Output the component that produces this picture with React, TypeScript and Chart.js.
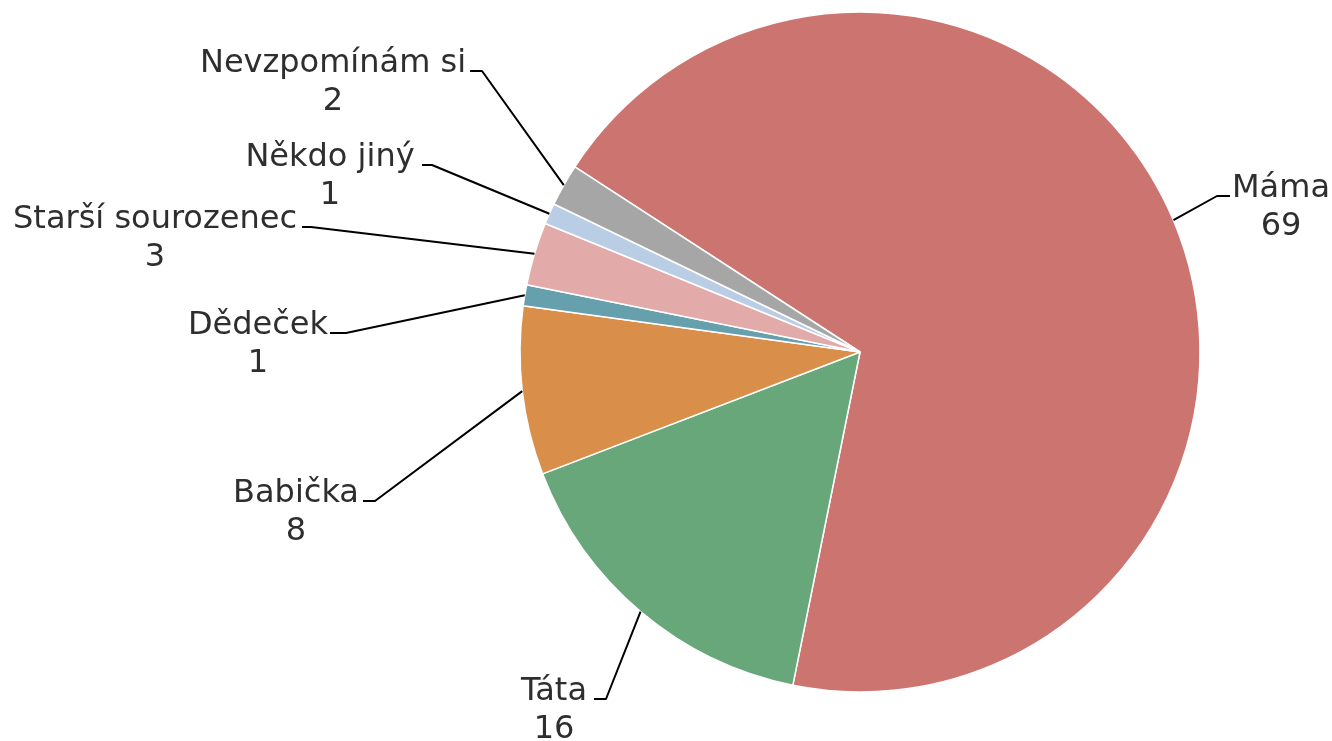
import React, { useEffect, useRef } from "react";
import { Chart, registerables } from "chart.js";

Chart.register(...registerables);

const categories = ["Máma", "Táta", "Babička", "Dědeček", "Starší sourozenec", "Někdo jiný", "Nevzpomínám si"];
const values = [69, 16, 8, 1, 3, 1, 2];
const sliceColors = ["#CC7470", "#67A77A", "#D98E4A", "#67A0AD", "#E2ABAA", "#B9CDE5", "#A6A6A6"];

// Label placement (offsets from pie centre): elbow point, end of horizontal tick, text centre x
const labelLayout = [
  { ex: 357, ey: -156, hx: 370, tx: 421 },
  { ex: -254, ey: 347, hx: -266, tx: -306 },
  { ex: -485, ey: 149, hx: -497, tx: -564 },
  { ex: -514, ey: -19, hx: -530, tx: -602 },
  { ex: -549, ey: -125, hx: -558, tx: -705 },
  { ex: -428, ey: -187, hx: -438, tx: -530 },
  { ex: -378, ey: -281, hx: -390, tx: -527 },
];

const FONT = "32px 'DejaVu Sans', Verdana, sans-serif";
const LINE_GAP = 38;

const labelPlugin = {
  id: "outerLabels",
  afterDatasetsDraw(chart: any) {
    const ctx = chart.ctx;
    const meta = chart.getDatasetMeta(0);
    ctx.save();
    meta.data.forEach((arc: any, i: number) => {
      const { x, y, startAngle, endAngle, outerRadius } = arc.getProps(
        ["x", "y", "startAngle", "endAngle", "outerRadius"],
        true
      );
      const mid = (startAngle + endAngle) / 2;
      const sx = x + outerRadius * Math.cos(mid);
      const sy = y + outerRadius * Math.sin(mid);
      const L = labelLayout[i];
      ctx.beginPath();
      ctx.strokeStyle = "#000000";
      ctx.lineWidth = 2;
      ctx.lineJoin = "round";
      ctx.moveTo(sx, sy);
      ctx.lineTo(x + L.ex, y + L.ey);
      ctx.lineTo(x + L.hx, y + L.ey);
      ctx.stroke();

      ctx.font = FONT;
      ctx.fillStyle = "#2E2E2E";
      ctx.textAlign = "center";
      ctx.textBaseline = "alphabetic";
      const base = y + L.ey + 1;
      ctx.fillText(categories[i], x + L.tx, base);
      ctx.fillText(String(values[i]), x + L.tx, base + LINE_GAP);
    });
    ctx.restore();
  },
};

export default function App() {
  const ref = useRef<HTMLCanvasElement | null>(null);
  useEffect(() => {
    if (!ref.current) return;
    const chart = new Chart(ref.current, {
      type: "pie",
      data: {
        labels: categories,
        datasets: [
          {
            data: values,
            backgroundColor: sliceColors,
            borderColor: "#FFFFFF",
            borderWidth: 1.5,
          },
        ],
      },
      options: {
        animation: false,
        responsive: false,
        rotation: -57,
        radius: 340,
        layout: { padding: { left: 400, right: 12, top: 0, bottom: 37 } },
        plugins: {
          legend: { display: false },
          tooltip: { enabled: false },
        },
      },
      plugins: [labelPlugin],
    });
    return () => chart.destroy();
  }, []);
  return (
    <div style={{ position: "fixed", left: 0, top: 0, width: 1332, height: 741, background: "#fff" }}>
      <canvas ref={ref} width={1332} height={741} style={{ width: 1332, height: 741 }} />
    </div>
  );
}
